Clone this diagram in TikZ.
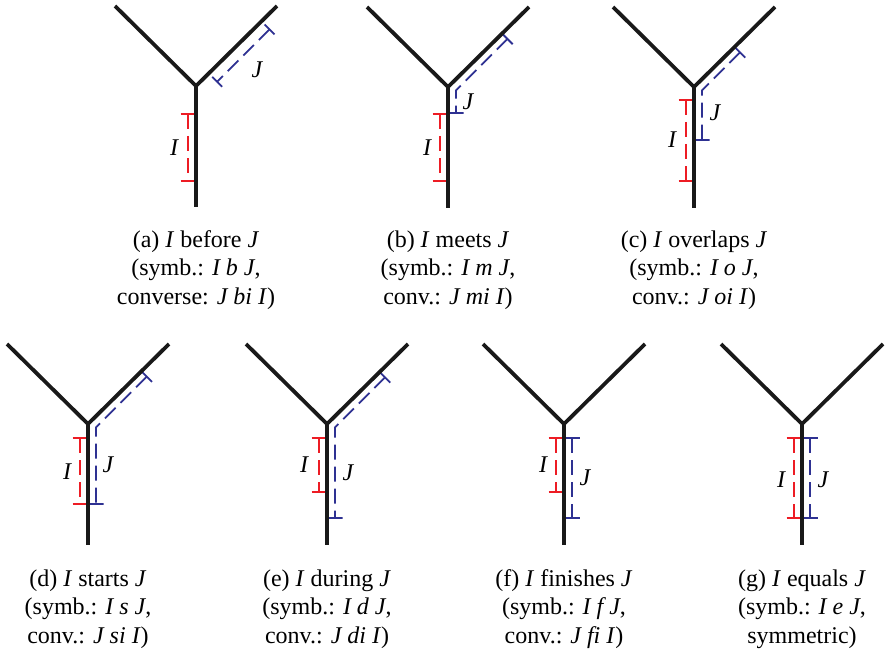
\documentclass[tikz,border=0pt]{standalone}
\usepackage{fontspec}
\setmainfont{Liberation Serif}
\usepackage{tikz}
\usetikzlibrary{calc}
\definecolor{ivl-red}{HTML}{ED1C24}
\definecolor{ivl-blue}{HTML}{2E3192}
\newcommand{\fork}{% fork point at (0,0), time runs upwards
  \draw[branch] (-81,-80) -- (0,0) -- (81,-80);
  \draw[branch] (0,0) -- (0,121);}
\newcommand{\stemivl}[4]{%  \stemivl{colour}{x}{top}{bottom}
  \draw[ivl, #1] (#2,#3) -- (#2,#4);
  \draw[tickln, #1] (#2-7.5,#3) -- (#2+7.5,#3) (#2-7.5,#4) -- (#2+7.5,#4);}
\newcommand{\armivl}[3]{%  \armivl{offset}{from}{to} along the right branch
  \draw[ivl, ivl-blue] ($(-45:#3)+(45:#1)$) -- ($(-45:#2)+(45:#1)$);
  \draw[tickln, ivl-blue] ($(-45:#2)+(45:#1-7)$) -- ($(-45:#2)+(45:#1+7)$)
                          ($(-45:#3)+(45:#1-7)$) -- ($(-45:#3)+(45:#1+7)$);}
\newcommand{\bentivl}[2]{%  \bentivl{along branch}{down stem}
  \draw[ivl, ivl-blue] ($(-45:#1)+(45:8)$) -- (8,3.3) -- (8,#2);
  \draw[tickln, ivl-blue] ($(-45:#1)+(45:0.5)$) -- ($(-45:#1)+(45:15.5)$)
                          (0.5,#2) -- (15.5,#2);}

\begin{document}
\begin{tikzpicture}[x=1pt, y=-1pt,
    branch/.style={line width=3.8pt, black!90},
    ivl/.style={line width=1.8pt, dash pattern=on 15pt off 7pt},
    tickln/.style={line width=1.8pt},
    lbl/.style={inner sep=0pt, font=\fontsize{24}{28}\selectfont\itshape},
    caption/.style={inner sep=0pt, align=center, font=\fontsize{24}{28.5}\selectfont}]
  \useasboundingbox (0,0) rectangle (886,658);

  % ── (a) before ──
  \begin{scope}[shift={(196,86)}]
    \stemivl{ivl-red}{-8}{28}{95}
    \armivl{12}{18}{92}
    \fork
    \node[lbl] (a-I) at (-22,62) {I};
    \node[lbl] (a-J) at (61,-16) {J};
    \node[caption] (a-cap) at (0,184)
      {(a) \textit{I} before \textit{J}\\(symb.: \textit{I b J},\\converse: \textit{J bi I})};
  \end{scope}

  % ── (b) meets ──
  \begin{scope}[shift={(448,87)}]
    \stemivl{ivl-red}{-8}{27}{94}
    \bentivl{76}{26}
    \fork
    \node[lbl] (b-I) at (-21,61) {I};
    \node[lbl] (b-J) at (20,15) {J};
    \node[caption] (b-cap) at (0,183)
      {(b) \textit{I} meets \textit{J}\\(symb.: \textit{I m J},\\conv.: \textit{J mi I})};
  \end{scope}

  % ── (c) overlaps ──
  \begin{scope}[shift={(694,87)}]
    \stemivl{ivl-red}{-8}{13}{94}
    \bentivl{57}{53}
    \fork
    \node[lbl] (c-I) at (-22,53) {I};
    \node[lbl] (c-J) at (21,26) {J};
    \node[caption] (c-cap) at (0,183)
      {(c) \textit{I} overlaps \textit{J}\\(symb.: \textit{I o J},\\conv.: \textit{J oi I})};
  \end{scope}

  % ── (d) starts ──
  \begin{scope}[shift={(88,424)}]
    \stemivl{ivl-red}{-8}{14}{80}
    \bentivl{75}{80}
    \fork
    \node[lbl] (d-I) at (-21,48) {I};
    \node[lbl] (d-J) at (20,41) {J};
    \node[caption] (d-cap) at (0,185)
      {(d) \textit{I} starts \textit{J}\\(symb.: \textit{I s J},\\conv.: \textit{J si I})};
  \end{scope}

  % ── (e) during ──
  \begin{scope}[shift={(327,424)}]
    \stemivl{ivl-red}{-8}{14}{68}
    \bentivl{74}{94}
    \fork
    \node[lbl] (e-I) at (-23,41) {I};
    \node[lbl] (e-J) at (21,49) {J};
    \node[caption] (e-cap) at (0,185)
      {(e) \textit{I} during \textit{J}\\(symb.: \textit{I d J},\\conv.: \textit{J di I})};
  \end{scope}

  % ── (f) finishes ──
  \begin{scope}[shift={(564,424)}]
    \stemivl{ivl-red}{-8}{14}{68}
    \stemivl{ivl-blue}{8}{14}{94}
    \fork
    \node[lbl] (f-I) at (-21,41) {I};
    \node[lbl] (f-J) at (21,54) {J};
    \node[caption] (f-cap) at (0,185)
      {(f) \textit{I} finishes \textit{J}\\(symb.: \textit{I f J},\\conv.: \textit{J fi I})};
  \end{scope}

  % ── (g) equals ──
  \begin{scope}[shift={(802,424)}]
    \stemivl{ivl-red}{-8}{14}{94}
    \stemivl{ivl-blue}{8}{14}{94}
    \fork
    \node[lbl] (g-I) at (-21,56) {I};
    \node[lbl] (g-J) at (21,56) {J};
    \node[caption] (g-cap) at (0,185)
      {(g) \textit{I} equals \textit{J}\\(symb.: \textit{I e J},\\symmetric)};
  \end{scope}
\end{tikzpicture}
\end{document}
